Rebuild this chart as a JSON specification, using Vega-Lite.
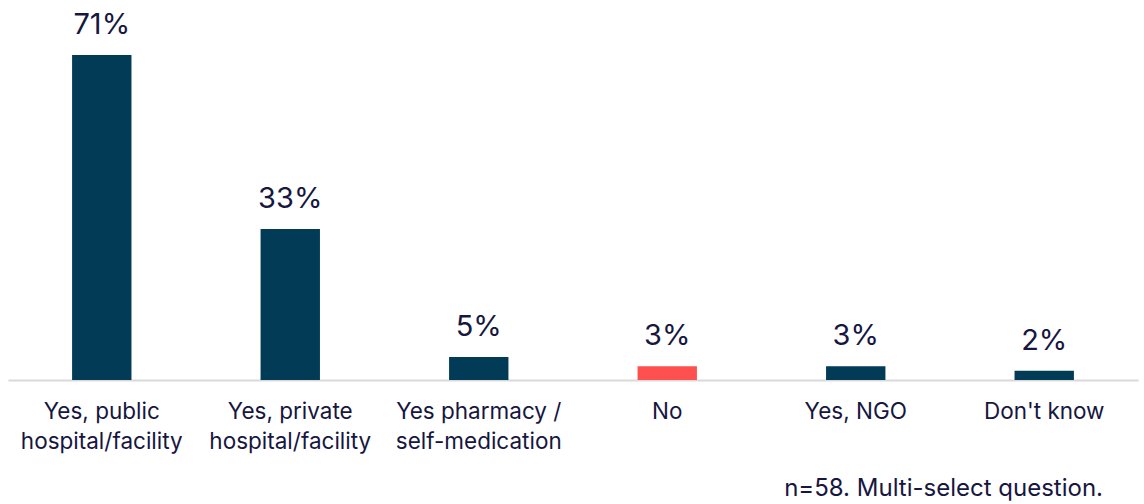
{
  "$schema": "https://vega.github.io/schema/vega-lite/v6.json",
  "width": 1130,
  "height": 325,
  "autosize": {"type": "none"},
  "padding": {"left": 8, "top": 55, "right": 6, "bottom": 124},
  "background": "white",
  "config": {"view": {"stroke": null}, "font": "Inter"},
  "title": {
    "text": "n=58. Multi-select question.",
    "orient": "bottom",
    "anchor": "end",
    "dx": -35,
    "offset": 24,
    "fontSize": 24,
    "fontWeight": "normal",
    "color": "#16163F",
    "font": "Inter"
  },
  "data": {
    "values": [
      {"category": "Yes, public hospital/facility", "value": 71, "label": "71%", "type": "yes"},
      {"category": "Yes, private hospital/facility", "value": 33, "label": "33%", "type": "yes"},
      {"category": "Yes pharmacy / self-medication", "value": 5, "label": "5%", "type": "yes"},
      {"category": "No", "value": 3, "label": "3%", "type": "no"},
      {"category": "Yes, NGO", "value": 3, "label": "3%", "type": "yes"},
      {"category": "Don't know", "value": 2, "label": "2%", "type": "yes"}
    ]
  },
  "encoding": {
    "x": {
      "field": "category",
      "type": "nominal",
      "sort": null,
      "scale": {"paddingInner": 0.685, "paddingOuter": 0.34},
      "axis": {
        "title": null,
        "labelAngle": 0,
        "ticks": false,
        "tickSize": 0,
        "domainColor": "#D9D9D9",
        "domainWidth": 2,
        "labelFontSize": 22.5,
        "labelColor": "#16163F",
        "labelPadding": 20,
        "labelLineHeight": 30,
        "labelBaseline": "top",
        "labelLimit": 300,
        "labelExpr": "datum.label == 'Yes, public hospital/facility' ? ['Yes, public', 'hospital/facility'] : datum.label == 'Yes, private hospital/facility' ? ['Yes, private', 'hospital/facility'] : datum.label == 'Yes pharmacy / self-medication' ? ['Yes pharmacy /', 'self-medication'] : datum.label"
      }
    },
    "y": {
      "field": "value",
      "type": "quantitative",
      "scale": {"domain": [0, 71], "nice": false, "zero": true},
      "axis": null
    }
  },
  "layer": [
    {
      "mark": {"type": "bar"},
      "encoding": {
        "color": {
          "field": "type",
          "type": "nominal",
          "scale": {"domain": ["yes", "no"], "range": ["#023B55", "#FF5050"]},
          "legend": null
        }
      }
    },
    {
      "mark": {"type": "text", "baseline": "alphabetic", "dy": -21, "fontSize": 29, "color": "#16163F", "font": "Inter"},
      "encoding": {"text": {"field": "label"}}
    }
  ]
}
